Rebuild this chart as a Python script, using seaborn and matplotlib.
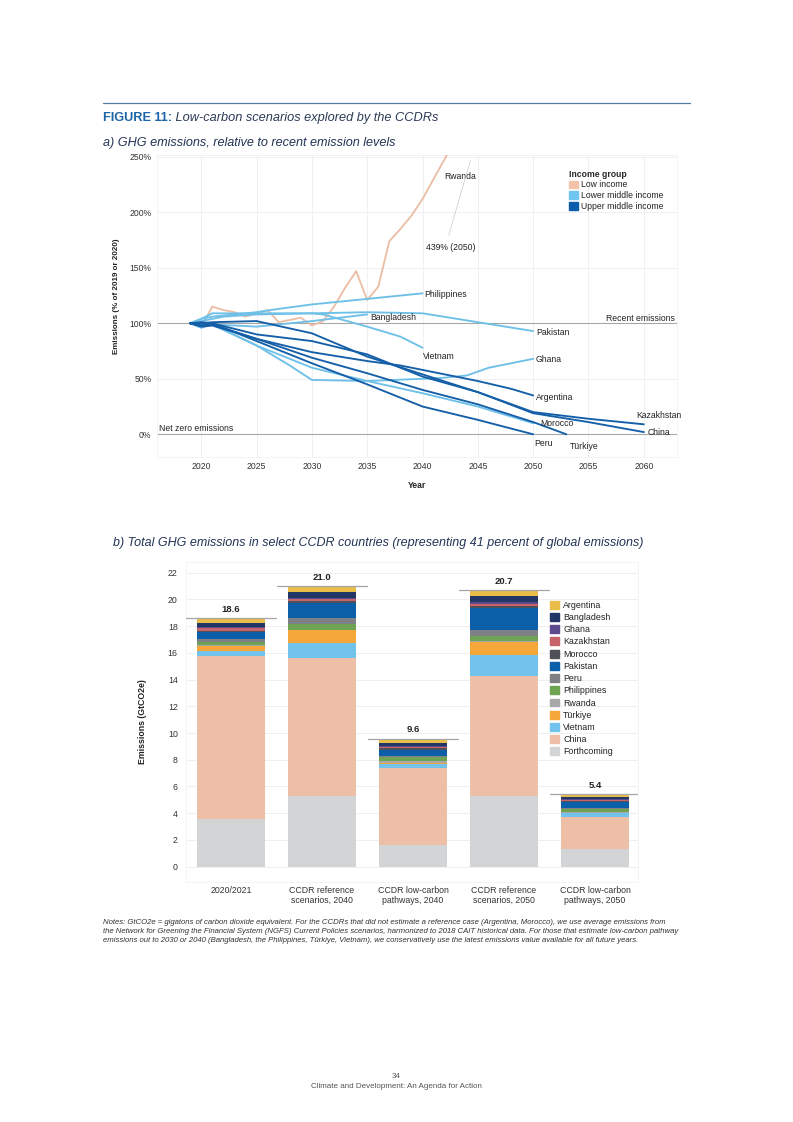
import matplotlib
matplotlib.use('Agg')
import matplotlib.pyplot as plt
from matplotlib.patches import Patch
from matplotlib.lines import Line2D
from matplotlib.ticker import FuncFormatter
import numpy as np
import pandas as pd
import seaborn as sns

# ---------------- panel a: emissions relative to 2019/2020 (%) ----------------
rwanda_years = list(range(2019, 2051))
rwanda_vals = [100, 97, 115, 112, 110, 106, 109, 112, 101, 103, 105, 98, 102, 115, 132, 147,
               121, 133, 174, 185, 197, 212, 230, 248, 266, 285, 305, 327, 352, 380, 408, 439]

philippines_years = [2019, 2020, 2021, 2023, 2025, 2027, 2030, 2035, 2040]
philippines_vals = [100, 104, 106, 108, 110, 113, 117, 122, 127]

bangladesh_years = [2019, 2020, 2021, 2025, 2030, 2035]
bangladesh_vals = [100, 96, 99, 97, 102, 108]

pakistan_years = [2019, 2020, 2022, 2025, 2030, 2035, 2040, 2045, 2050]
pakistan_vals = [100, 102, 106, 108, 109, 110, 109, 101, 93]

vietnam_years = [2019, 2020, 2021, 2025, 2030, 2031, 2035, 2038, 2040]
vietnam_vals = [100, 104, 109, 109, 109, 108, 97, 88, 78]

ghana_years = [2019, 2020, 2021, 2025, 2028, 2030, 2035, 2040, 2042, 2044, 2046, 2048, 2050]
ghana_vals = [100, 98, 99, 80, 62, 49, 48, 50, 51, 53, 60, 64, 68]

morocco_years = [2019, 2021, 2025, 2030, 2035, 2040, 2045, 2050]
morocco_vals = [100, 99, 80, 60, 48, 37, 25, 10]

argentina_years = [2019, 2020, 2021, 2025, 2030, 2035, 2038, 2040, 2045, 2048, 2050]
argentina_vals = [100, 98, 99, 86, 74, 66, 62, 58, 48, 41, 35]

kazakhstan_years = [2019, 2020, 2021, 2025, 2030, 2035, 2040, 2045, 2050, 2055, 2060]
kazakhstan_vals = [100, 100, 101, 102, 91, 70, 54, 38, 20, 14, 9]

china_years = [2019, 2020, 2021, 2025, 2030, 2035, 2040, 2045, 2050, 2055, 2060]
china_vals = [100, 101, 100, 90, 84, 72, 52, 38, 19, 11, 2]

turkiye_years = [2019, 2020, 2021, 2025, 2030, 2035, 2040, 2045, 2050, 2053]
turkiye_vals = [100, 97, 98, 86, 69, 55, 40, 27, 11, 0]

peru_years = [2019, 2020, 2021, 2025, 2030, 2035, 2040, 2045, 2050]
peru_vals = [100, 98, 100, 84, 64, 45, 25, 13, 0]

series = {
    'Rwanda': (rwanda_years, rwanda_vals, 'Low income'),
    'Philippines': (philippines_years, philippines_vals, 'Lower middle income'),
    'Bangladesh': (bangladesh_years, bangladesh_vals, 'Lower middle income'),
    'Pakistan': (pakistan_years, pakistan_vals, 'Lower middle income'),
    'Vietnam': (vietnam_years, vietnam_vals, 'Lower middle income'),
    'Ghana': (ghana_years, ghana_vals, 'Lower middle income'),
    'Morocco': (morocco_years, morocco_vals, 'Lower middle income'),
    'Argentina': (argentina_years, argentina_vals, 'Upper middle income'),
    'Kazakhstan': (kazakhstan_years, kazakhstan_vals, 'Upper middle income'),
    'China': (china_years, china_vals, 'Upper middle income'),
    'Türkiye': (turkiye_years, turkiye_vals, 'Upper middle income'),
    'Peru': (peru_years, peru_vals, 'Upper middle income'),
}

income_groups = ['Low income', 'Lower middle income', 'Upper middle income']
income_line_cols = ['#EBBFA6', '#6EC0E9', '#145FA8']
income_legend_cols = ['#F0C3AA', '#6EC6F0', '#0B5CAB']

# label offsets from each line's last point (in data units)
label_offsets = {
    'Philippines': (0.2, -1), 'Bangladesh': (0.3, -3), 'Pakistan': (0.25, -1),
    'Vietnam': (0.0, -7.5), 'Ghana': (0.25, -1), 'Argentina': (0.25, -1.4),
    'Morocco': (0.6, -0.7), 'Kazakhstan': (-0.7, 7.5), 'China': (0.3, -0.8),
    'Peru': (0.1, -8), 'Türkiye': (0.3, -11),
}

# ---------------- panel b: total GHG emissions (GtCO2e) ----------------
scenarios = ['2020/2021', 'CCDR reference\nscenarios, 2040', 'CCDR low-carbon\npathways, 2040',
             'CCDR reference\nscenarios, 2050', 'CCDR low-carbon\npathways, 2050']
forthcoming = [3.55, 5.3, 1.6, 5.3, 1.3]
china = [12.2, 10.33, 5.82, 8.95, 2.38]
vietnam = [0.36, 1.12, 0.3, 1.58, 0.3]
turkiye = [0.42, 0.95, 0.05, 0.97, 0.05]
rwanda = [0.07, 0.05, 0.1, 0.07, 0.05]
philippines = [0.19, 0.45, 0.3, 0.43, 0.25]
peru = [0.22, 0.38, 0.1, 0.45, 0.07]
pakistan = [0.57, 1.17, 0.48, 1.63, 0.43]
morocco = [0.05, 0.1, 0.1, 0.12, 0.05]
kazakhstan = [0.27, 0.15, 0.08, 0.2, 0.1]
ghana = [0.05, 0.1, 0.1, 0.12, 0.07]
bangladesh = [0.29, 0.48, 0.25, 0.43, 0.15]
argentina = [0.35, 0.42, 0.28, 0.45, 0.2]

# bottom -> top stacking order
stack_names = ['Forthcoming', 'China', 'Vietnam', 'Türkiye', 'Rwanda', 'Philippines', 'Peru',
               'Pakistan', 'Morocco', 'Kazakhstan', 'Ghana', 'Bangladesh', 'Argentina']
stack_vals = [forthcoming, china, vietnam, turkiye, rwanda, philippines, peru,
              pakistan, morocco, kazakhstan, ghana, bangladesh, argentina]
stack_cols = ['#D3D4D6', '#EDBFA6', '#72C3EC', '#F6A73A', '#A8A8AB', '#6EA354', '#7D8084',
              '#0B5EA8', '#4E5157', '#C6626A', '#5D4A8C', '#223766', '#E9BD48']

notes = ("Notes: GtCO2e = gigatons of carbon dioxide equivalent. For the CCDRs that did not estimate a reference case "
         "(Argentina, Morocco), we use average emissions from\n"
         "the Network for Greening the Financial System (NGFS) Current Policies scenarios, harmonized to 2018 CAIT "
         "historical data. For those that estimate low-carbon pathway\n"
         "emissions out to 2030 or 2040 (Bangladesh, the Philippines, Türkiye, Vietnam), we conservatively use the "
         "latest emissions value available for all future years.")

sns.set_theme(style='white')
plt.rcParams['font.family'] = ['Liberation Sans', 'DejaVu Sans']

W, H = 793, 1122
fig = plt.figure(figsize=(W / 100, H / 100), dpi=100)
fig.patch.set_facecolor('white')

def fx(px):
    return px / W

def fy(py):
    return 1 - py / H

txt = '#222222'

# header
fig.add_artist(Line2D([fx(103), fx(690)], [fy(103), fy(103)], color='#4F7CA3', lw=0.9))
t1 = fig.text(fx(103), fy(118), 'FIGURE 11:', fontsize=9.2, fontweight='bold', color='#1B64A8', va='center')
fig.add_artist(plt.Annotation(' Low-carbon scenarios explored by the CCDRs', xy=(1, 0.5), xycoords=t1,
                              va='center', ha='left', fontsize=9.2, style='italic', color='#2B3A55'))
fig.text(fx(103), fy(143), 'a) GHG emissions, relative to recent emission levels', fontsize=9.1,
         style='italic', color='#233354', va='center')
fig.text(fx(113), fy(543), 'b) Total GHG emissions in select CCDR countries (representing 41 percent of global emissions)',
         fontsize=9, style='italic', color='#233354', va='center')

# ---------------- panel a ----------------
ax1 = fig.add_axes([fx(157), fy(456.5), fx(677) - fx(157), (456.5 - 154.6) / H])
rows = []
for name, (yrs, vals, grp) in series.items():
    for y, v in zip(yrs, vals):
        rows.append({'country': name, 'year': y, 'pct': v, 'income': grp})
df_a = pd.DataFrame(rows)

ax1.axhline(100, color='#A8A8A8', lw=0.8, zorder=1)
ax1.axhline(0, color='#A8A8A8', lw=0.8, zorder=1)
sns.lineplot(data=df_a, x='year', y='pct', hue='income', units='country', estimator=None,
             palette=dict(zip(income_groups, income_line_cols)), lw=1.35, legend=False, ax=ax1, zorder=3)

ax1.set_xlim(2016, 2063)
ax1.set_ylim(-20, 252)
ax1.set_xticks(range(2020, 2061, 5))
ax1.set_yticks([0, 50, 100, 150, 200, 250])
ax1.yaxis.set_major_formatter(FuncFormatter(lambda v, p: f'{v:.0f}%'))
ax1.grid(True, color='#F0F0F0', lw=0.7)
ax1.set_axisbelow(True)
for s in ax1.spines.values():
    s.set_color('#F2F2F2')
    s.set_linewidth(0.6)
ax1.tick_params(length=0, labelsize=6.2, colors='#333333', pad=4)
ax1.set_xlabel('Year', fontsize=6.2, fontweight='bold', color=txt)
ax1.set_ylabel('Emissions (% of 2019 or 2020)', fontsize=5.8, fontweight='bold', color=txt)
ax1.xaxis.set_label_coords(0.5, -0.081)
ax1.yaxis.set_label_coords(-0.071, 0.53)

for name, (dx, dy) in label_offsets.items():
    yrs, vals, _ = series[name]
    ax1.text(yrs[-1] + dx, vals[-1] + dy, name, fontsize=6.2, color=txt, va='center', ha='left', zorder=5)
ax1.text(2042.0, 232, 'Rwanda', fontsize=6.2, color=txt, va='center')
ax1.text(2040.3, 168, f'{rwanda_vals[-1]}% ({rwanda_years[-1]})', fontsize=6.2, color=txt, va='center')
ax1.annotate('', xy=(2044.4, 249), xytext=(2042.3, 177),
             arrowprops=dict(arrowstyle='-', color='#C8C8C8', lw=0.5))
ax1.text(2062.8, 104.5, 'Recent emissions', fontsize=6.2, color=txt, ha='right', va='center')
ax1.text(2016.2, 4.8, 'Net zero emissions', fontsize=6.2, color=txt, ha='left', va='center')

leg1 = ax1.legend(handles=[Patch(color=c, label=l) for c, l in zip(income_legend_cols, income_groups)],
                  title='Income group', loc='upper left', bbox_to_anchor=(0.793, 0.95), frameon=False,
                  fontsize=6.2, title_fontsize=6.2, alignment='left', handlelength=1.0, handleheight=1.0,
                  labelspacing=0.2, handletextpad=0.4, borderpad=0, borderaxespad=0)
leg1.get_title().set_fontweight('bold')
for t in leg1.get_texts():
    t.set_color(txt)

# ---------------- panel b ----------------
ax2 = fig.add_axes([fx(186), fy(881.7), fx(638) - fx(186), (881.7 - 561.7) / H])
cum = np.cumsum(np.array(stack_vals), axis=0)
for i in range(len(stack_names) - 1, -1, -1):
    sns.barplot(x=scenarios, y=cum[i], color=stack_cols[i], width=0.75, saturation=1,
                errorbar=None, linewidth=0, edgecolor='none', ax=ax2, zorder=2)
totals = cum[-1]
for i, t in enumerate(totals):
    ax2.plot([i - 0.49, i + 0.49], [t, t], color='#A6A6A6', lw=0.9, zorder=3)
    ax2.text(i, t + 0.68, f'{t:.1f}', ha='center', va='center', fontsize=6.8, fontweight='bold', color=txt)

ax2.set_xlim(-0.495, 4.473)
ax2.set_ylim(-1.13, 22.83)
ax2.set_yticks(range(0, 23, 2))
ax2.grid(True, axis='y', color='#EFEFEF', lw=0.7)
ax2.set_axisbelow(True)
for s in ax2.spines.values():
    s.set_color('#F2F2F2')
    s.set_linewidth(0.6)
ax2.tick_params(length=0, labelsize=6.3, colors='#333333')
ax2.tick_params(axis='x', pad=3)
ax2.tick_params(axis='y', pad=6)
ax2.set_xlabel('')
ax2.set_ylabel('Emissions (GtCO2e)', fontsize=6.3, fontweight='bold', color=txt)
ax2.yaxis.set_label_coords(-0.086, 0.5)

handles = [Patch(color=c, label=n) for n, c in zip(stack_names[::-1], stack_cols[::-1])]
leg2 = ax2.legend(handles=handles, loc='upper left', bbox_to_anchor=(0.805, 0.878), frameon=False,
                  fontsize=6.4, handlelength=1.0, handleheight=1.0, labelspacing=0.36,
                  handletextpad=0.5, borderpad=0, borderaxespad=0)
for t in leg2.get_texts():
    t.set_color(txt)

# notes and footer
fig.text(fx(103), fy(919), notes, fontsize=5.6, style='italic', color='#333333', va='top', linespacing=1.45)
fig.text(0.5, fy(1077), '34', fontsize=5.8, color='#555555', ha='center', va='center')
fig.text(0.5, fy(1087), 'Climate and Development: An Agenda for Action', fontsize=5.8, color='#555555',
         ha='center', va='center')

fig.savefig('out.png', dpi=100, facecolor='white')
